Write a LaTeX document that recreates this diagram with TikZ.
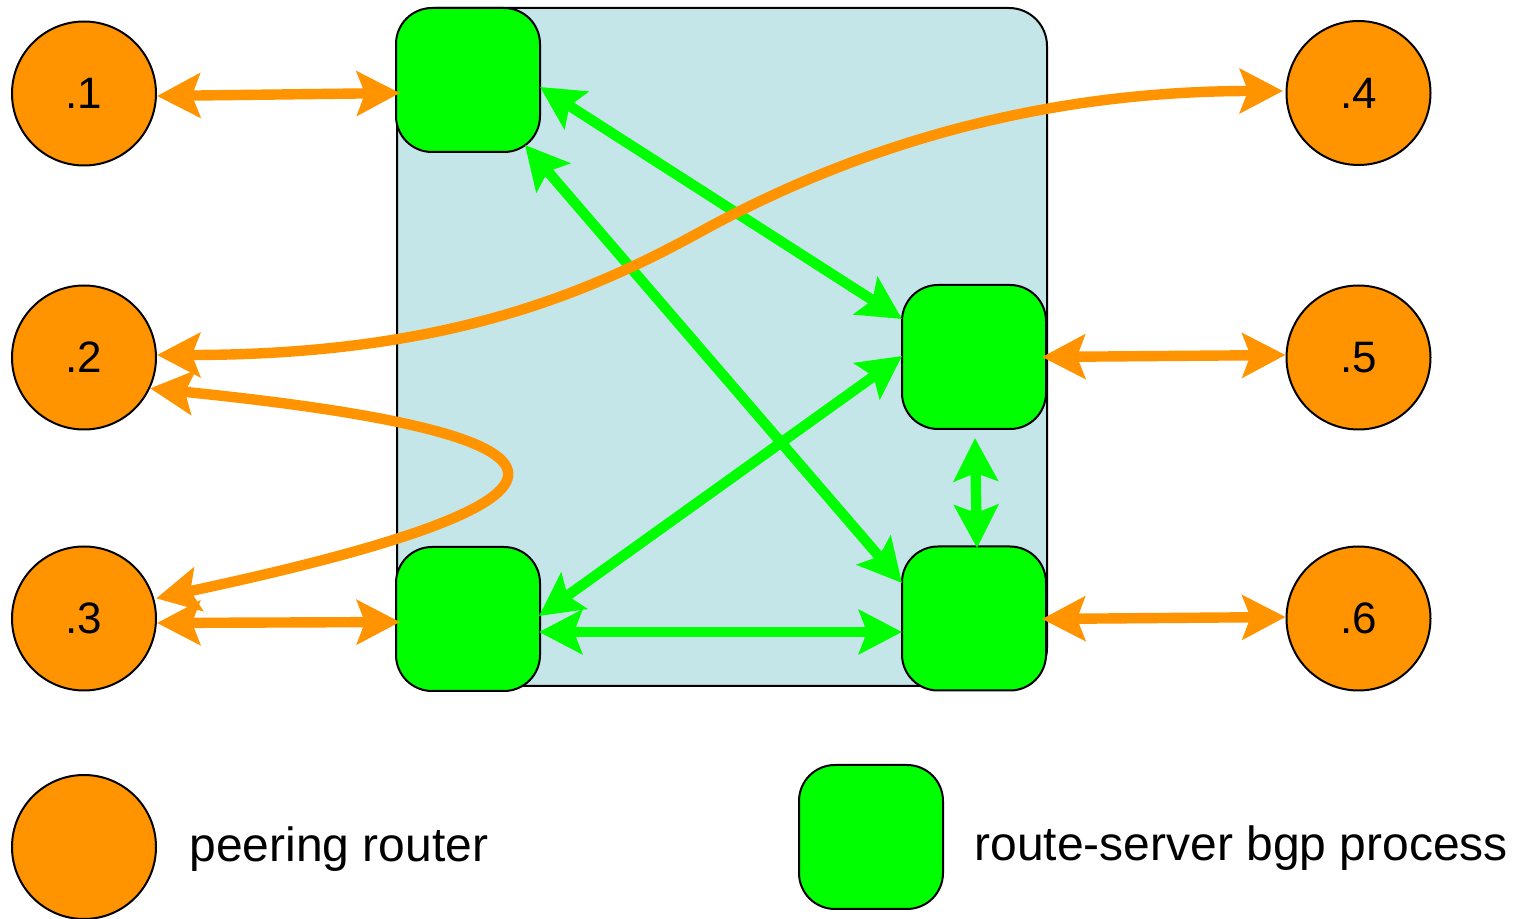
\documentclass[tikz,border=0pt]{standalone}
\usepackage{fontspec}
\setmainfont{Liberation Sans}
\usetikzlibrary{arrows.meta,calc}
\definecolor{peerorange}{HTML}{FF9400}
\definecolor{rsgreen}{HTML}{00FF00}
\definecolor{boxblue}{HTML}{C4E6E8}
\begin{document}
\begin{tikzpicture}[x=0.5pt,y=-0.5pt,
  peer/.style={circle,draw=black,line width=1pt,fill=peerorange,minimum size=72pt,inner sep=0pt,font=\fontsize{22}{26}\selectfont},
  rsbox/.style={rectangle,rounded corners=18pt,draw=black,line width=1pt,fill=rsgreen,minimum size=72pt,inner sep=0pt},
  rstip/.tip={Stealth[length=21.5pt,width=22pt,inset=4pt]},
  olink/.style={draw=peerorange,line width=5.2pt,arrows={rstip-rstip}},
  glink/.style={draw=rsgreen,line width=5.2pt,arrows={rstip-rstip}},
  legendtext/.style={font=\fontsize{24}{28}\selectfont,anchor=base west,inner sep=0pt}]
\fill[white] (0,0) rectangle (1523,919);
\useasboundingbox (0,0) rectangle (1523,919);

% route server container
\node[draw=black,line width=1pt,fill=boxblue,rounded corners=19pt,minimum width=325pt,minimum height=339pt,inner sep=0pt] (rs) at (722,347) {};

% route-server bgp processes
\node[rsbox] (A) at (468,80) {};
\node[rsbox] (B) at (974,357) {};
\node[rsbox] (C) at (974,618.5) {};
\node[rsbox] (D) at (468,619) {};

% peering routers
\node[peer] (c1) at (84,93.5) {.1};
\node[peer] (c2) at (84,357.5) {.2};
\node[peer] (c3) at (84,618.5) {.3};
\node[peer] (c4) at (1358.5,93) {.4};
\node[peer] (c5) at (1358.5,357.5) {.5};
\node[peer] (c6) at (1358.5,618.5) {.6};

% green links
\draw[glink] ($(A.east)+(-1,7)$) -- ($(B.west)+(1,-38)$);
\draw[glink] ($(A.east)+(-16,65)$) -- ($(C.west)+(1,-35.5)$);
\draw[glink] ($(D.east)+(-2,-3)$) -- ($(B.west)+(1,-1)$);
\draw[glink] ($(D.east)+(-2,13)$) -- ($(C.west)+(1,13.5)$);
\draw[glink] ($(B.south)+(1,8)$) -- ($(C.north)+(3,2.5)$);

% orange links
\draw[olink] ($(c1.east)+(0,2.5)$) -- ($(A.west)+(5,13)$);
\draw[olink] ($(c3.east)+(0,4.5)$) -- ($(D.west)+(5,3)$);
\draw[olink] ($(B.east)+(-5,0)$) -- ($(c5.west)+(0,-2.5)$);
\draw[olink] ($(C.east)+(-5,0.5)$) -- ($(c6.west)+(0,-1.5)$);
\draw[olink] ($(c2.east)+(0,-2.5)$) .. controls (437,355) and (580,298) .. (700,232)
  .. controls (850,149.5) and (1033,91) .. ($(c4.west)+(-2.5,-2)$);
\draw[olink] (c2.-25) .. controls (580,432) and (650,493) .. ($(c3.16)+(2,0)$);

% legend
\node[peer] (lc) at (84,847) {};
\node[legendtext] (lct) at (189,862) {peering router};
\node[rsbox] (lb) at (871,837) {};
\node[legendtext] (lbt) at (974,861) {route-server bgp process};
\end{tikzpicture}
\end{document}
